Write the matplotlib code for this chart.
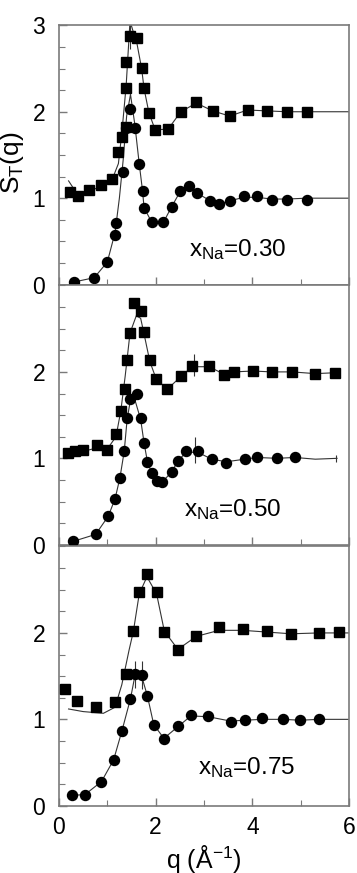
import numpy as np
import matplotlib
matplotlib.use("Agg")
from matplotlib import pyplot as plt
from matplotlib.ticker import MultipleLocator

plt.rcParams["font.family"] = ["Liberation Sans", "DejaVu Sans"]
plt.rcParams["mathtext.fontset"] = "custom"
plt.rcParams["mathtext.rm"] = "Liberation Sans"
plt.rcParams["mathtext.it"] = "Liberation Sans"

labels = ["0.30", "0.50", "0.75"]

# x_Na = 0.30
sq1_q = [0.23, 0.40, 0.63, 0.88, 1.09, 1.23, 1.30, 1.39, 1.39, 1.39, 1.47, 1.61, 1.71, 1.76, 1.86,
         1.99, 2.26, 2.52, 2.84, 3.18, 3.53, 3.90, 4.30, 4.71, 5.13]
sq1_s = [1.07, 1.02, 1.09, 1.15, 1.22, 1.54, 1.71, 1.82, 2.28, 2.58, 2.88, 2.85, 2.51, 2.27, 1.99,
         1.79, 1.80, 2.00, 2.11, 2.01, 1.95, 2.02, 2.01, 2.00, 2.00]
ci1_q = [0.31, 0.73, 1.00, 1.16, 1.19, 1.33, 1.38, 1.48, 1.57, 1.66, 1.73, 1.76, 1.92, 2.16, 2.33,
         2.50, 2.68, 2.85, 3.13, 3.30, 3.54, 3.82, 4.09, 4.40, 4.71, 5.13]
ci1_s = [0.03, 0.08, 0.26, 0.57, 0.71, 1.30, 1.81, 2.03, 1.81, 1.40, 1.08, 0.89, 0.72, 0.72, 0.90,
         1.08, 1.14, 1.06, 0.97, 0.93, 0.97, 1.02, 1.02, 0.98, 0.98, 0.98]
ln1a_q = [0.20, 0.40, 0.63, 0.88, 1.09, 1.23, 1.30, 1.39, 1.47, 1.55, 1.61, 1.71, 1.76, 1.86, 1.99,
          2.26, 2.52, 2.84, 3.18, 3.53, 3.90, 4.30, 4.71, 5.13, 5.60, 6.00]
ln1a_s = [1.20, 1.03, 1.08, 1.14, 1.20, 1.40, 1.75, 2.30, 3.05, 2.90, 2.80, 2.50, 2.27, 1.99, 1.79,
          1.80, 2.00, 2.10, 2.01, 1.95, 2.02, 2.01, 2.00, 2.00, 2.00, 2.00]
ln1b_q = [0.31, 0.73, 1.00, 1.16, 1.25, 1.33, 1.40, 1.48, 1.57, 1.66, 1.73, 1.76, 1.92, 2.16, 2.33,
          2.50, 2.68, 2.85, 3.13, 3.30, 3.54, 3.82, 4.09, 4.40, 4.71, 5.13, 5.60, 6.00]
ln1b_s = [0.03, 0.08, 0.26, 0.60, 1.00, 1.45, 1.95, 2.20, 1.85, 1.40, 1.08, 0.89, 0.72, 0.72, 0.90,
          1.07, 1.13, 1.06, 0.97, 0.93, 0.97, 1.01, 1.01, 0.99, 0.99, 1.00, 1.00, 1.00]

# x_Na = 0.50
sq2_q = [0.19, 0.33, 0.50, 0.78, 0.99, 1.18, 1.28, 1.37, 1.40, 1.47, 1.55, 1.69, 1.76, 1.88, 2.01,
         2.24, 2.53, 2.75, 3.11, 3.42, 3.61, 4.01, 4.40, 4.82, 5.30, 5.70]
sq2_s = [1.06, 1.08, 1.10, 1.15, 1.10, 1.28, 1.55, 1.80, 2.14, 2.45, 2.80, 2.70, 2.46, 2.14, 1.92,
         1.80, 1.95, 2.07, 2.07, 1.96, 2.00, 2.01, 2.00, 2.00, 1.98, 1.99]
ci2_q = [0.30, 0.76, 1.02, 1.16, 1.26, 1.35, 1.41, 1.48, 1.61, 1.69, 1.76, 1.83, 1.92, 2.02, 2.14,
         2.33, 2.46, 2.63, 2.87, 3.16, 3.46, 3.84, 4.09, 4.51, 4.88]
ci2_s = [0.04, 0.12, 0.33, 0.53, 0.77, 1.08, 1.47, 1.69, 1.74, 1.47, 1.18, 0.96, 0.83, 0.74, 0.73,
         0.84, 0.97, 1.09, 1.08, 0.99, 0.95, 0.99, 1.01, 1.00, 1.02]
ln2a_q = [0.19, 0.33, 0.50, 0.78, 0.99, 1.18, 1.28, 1.37, 1.47, 1.60, 1.69, 1.76, 1.88, 2.01, 2.24,
          2.53, 2.75, 3.11, 3.42, 3.61, 4.01, 4.40, 4.82, 5.30, 5.70]
ln2a_s = [1.08, 1.10, 1.08, 1.12, 1.10, 1.25, 1.55, 1.95, 2.45, 2.65, 2.62, 2.44, 2.12, 1.92, 1.80,
          1.95, 2.06, 2.06, 1.97, 2.00, 2.01, 2.00, 2.00, 1.98, 1.99]
ln2b_q = [0.30, 0.76, 1.02, 1.16, 1.26, 1.35, 1.41, 1.48, 1.58, 1.69, 1.76, 1.83, 1.92, 2.02, 2.14,
          2.33, 2.46, 2.63, 2.87, 3.16, 3.46, 3.84, 4.09, 4.51, 4.88, 5.30, 5.75]
ln2b_s = [0.04, 0.12, 0.33, 0.53, 0.77, 1.08, 1.45, 1.68, 1.66, 1.45, 1.18, 0.96, 0.83, 0.74, 0.73,
          0.84, 0.97, 1.07, 1.07, 0.99, 0.96, 0.99, 1.01, 1.00, 1.01, 0.99, 1.00]

# x_Na = 0.75
sq3_q = [0.12, 0.37, 0.76, 1.16, 1.38, 1.54, 1.66, 1.82, 2.02, 2.18, 2.46, 2.84, 3.31, 3.80, 4.30,
         4.80, 5.38, 5.79]
sq3_s = [1.35, 1.21, 1.14, 1.20, 1.53, 2.02, 2.47, 2.68, 2.47, 2.01, 1.80, 1.97, 2.07, 2.05, 2.02,
         1.99, 2.00, 2.01]
ci3_q = [0.28, 0.54, 0.88, 1.13, 1.30, 1.48, 1.57, 1.71, 1.83, 1.96, 2.17, 2.47, 2.73, 3.09, 3.55,
         3.84, 4.20, 4.64, 4.99, 5.38]
ci3_s = [0.13, 0.13, 0.28, 0.53, 0.86, 1.24, 1.52, 1.51, 1.27, 0.94, 0.77, 0.92, 1.05, 1.04, 0.97,
         0.99, 1.01, 1.00, 0.99, 1.00]
ln3a_q = [0.20, 0.50, 0.92, 1.16, 1.30, 1.45, 1.54, 1.66, 1.82, 2.02, 2.18, 2.46, 2.84, 3.31, 3.80,
          4.30, 4.80, 5.38, 6.00]
ln3a_s = [1.12, 1.09, 1.07, 1.14, 1.40, 1.80, 2.02, 2.45, 2.65, 2.45, 2.02, 1.81, 1.96, 2.03, 2.03,
          2.01, 1.99, 2.00, 2.00]
ln3b_q = [0.28, 0.54, 0.88, 1.13, 1.30, 1.48, 1.57, 1.71, 1.83, 1.96, 2.17, 2.47, 2.73, 3.09, 3.55,
          3.84, 4.20, 4.64, 4.99, 5.38, 6.00]
ln3b_s = [0.12, 0.13, 0.28, 0.53, 0.86, 1.24, 1.50, 1.50, 1.27, 0.94, 0.78, 0.92, 1.04, 1.03, 0.98,
          0.99, 1.00, 1.00, 0.99, 1.00, 1.00]

# a few visible error bars
err1_q, err1_s, err1_e = [1.47], [2.88], [0.15]
err2_q, err2_s, err2_e = [2.80, 2.82, 5.72], [2.08, 1.10, 1.00], [0.13, 0.15, 0.04]
err3_q, err3_s, err3_e = [1.57, 1.71], [1.52, 1.51], [0.16, 0.16]

panels = [
    (sq1_q, sq1_s, ci1_q, ci1_s, ln1a_q, ln1a_s, ln1b_q, ln1b_s, err1_q, err1_s, err1_e),
    (sq2_q, sq2_s, ci2_q, ci2_s, ln2a_q, ln2a_s, ln2b_q, ln2b_s, err2_q, err2_s, err2_e),
    (sq3_q, sq3_s, ci3_q, ci3_s, ln3a_q, ln3a_s, ln3b_q, ln3b_s, err3_q, err3_s, err3_e),
]
label_pos = [(3.7, 0.41), (3.6, 0.41), (3.88, 0.44)]

fig = plt.figure(figsize=(3.57, 8.73), dpi=100)
bottoms = [0.674, 0.376, 0.077]
frame = "#7a7a7a"

for i, p in enumerate(panels):
    sq_q, sq_s, ci_q, ci_s, la_q, la_s, lb_q, lb_s, eq, es, ee = p
    ax = fig.add_axes([0.165, bottoms[i], 0.813, 0.297])
    ax.plot(la_q, la_s, "-", color="#333333", lw=0.8, zorder=2)
    ax.plot(lb_q, lb_s, "-", color="#333333", lw=0.8, zorder=2)
    ax.errorbar(eq, es, yerr=ee, fmt="none", ecolor="#333333", elinewidth=0.8, zorder=2)
    ax.plot(sq_q, sq_s, "s", color="black", ms=6.8, zorder=3)
    ax.plot(ci_q, ci_s, "o", color="black", ms=7.2, zorder=3)

    ax.set_xlim(0, 6)
    ax.set_ylim(0, 3)
    ax.xaxis.set_major_locator(MultipleLocator(2))
    ax.xaxis.set_minor_locator(MultipleLocator(1))
    ax.yaxis.set_major_locator(MultipleLocator(1))
    ax.yaxis.set_minor_locator(MultipleLocator(0.25))
    ax.tick_params(which="both", direction="in", color=frame, top=False, right=False,
                   labelsize=16.5)
    ax.tick_params(axis="y", pad=10)
    ax.tick_params(axis="x", pad=7)
    ax.tick_params(which="major", length=6, width=1)
    ax.tick_params(which="minor", length=4, width=0.8)
    for s in ax.spines.values():
        s.set_color(frame)
        s.set_linewidth(1.2)
    if i == 0:
        ax.set_yticks([0, 1, 2, 3])
    else:
        ax.set_yticks([0, 1, 2])
    if i < 2:
        ax.set_xticklabels([])
    else:
        ax.set_xlabel(r"q ($\mathregular{\AA^{-1}}$)", fontsize=18, labelpad=3)
    if i == 0:
        ax.set_ylabel(r"S$_\mathregular{T}$(q)", fontsize=19, labelpad=0, va="center")
        ax.yaxis.set_label_coords(-0.16, 0.47)
    tx, ty = label_pos[i]
    ax.text(tx, ty, r"x$_\mathregular{Na}$=" + labels[i], fontsize=17.5,
            ha="center", va="center")

fig.savefig("out.png", dpi=100)
